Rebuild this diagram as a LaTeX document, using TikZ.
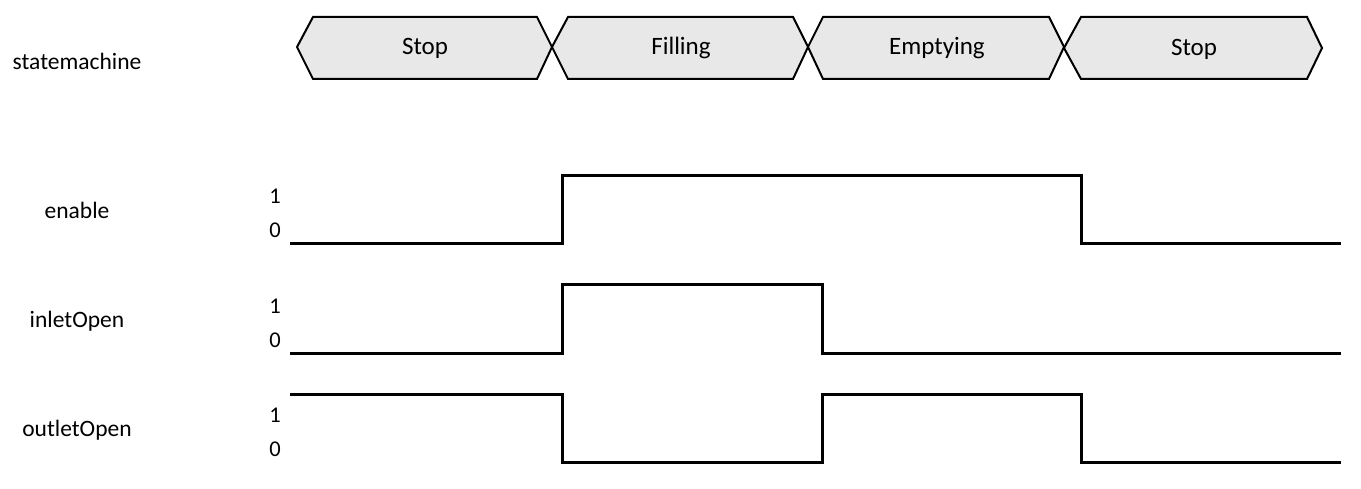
\documentclass[tikz,border=0pt]{standalone}
\usepackage{fontspec}
\setmainfont{Carlito}
\begin{document}
\begin{tikzpicture}[x=1pt,y=-1pt,
  statebox/.style={draw=black,line width=2pt,fill=statefill,line join=miter},
  wave/.style={draw=black,line width=3pt,line join=miter},
  statelabel/.style={font=\fontsize{25}{30}\selectfont,inner sep=0pt,anchor=base},
  siglabel/.style={font=\fontsize{23.5}{28}\selectfont,inner sep=0pt,anchor=base},
  lvl/.style={font=\fontsize{22.5}{27}\selectfont,inner sep=0pt,anchor=base}]
\definecolor{statefill}{HTML}{E8E8E8}
\useasboundingbox (0,0) rectangle (1361,489);
% state hexagons
\draw[statebox] (297,47) -- (313,17) -- (537,17) -- (552,47) -- (537,79) -- (313,79) -- cycle;
\draw[statebox] (552,47) -- (568,17) -- (793,17) -- (808,47) -- (793,79) -- (568,79) -- cycle;
\draw[statebox] (808,47) -- (823,17) -- (1049,17) -- (1064,47) -- (1049,79) -- (823,79) -- cycle;
\draw[statebox] (1064,48) -- (1081,17) -- (1307,17) -- (1322,48) -- (1307,79) -- (1081,79) -- cycle;
\node[statelabel] (s1) at (425,55) {Stop};
\node[statelabel] (s2) at (681,55) {Filling};
\node[statelabel] (s3) at (937,55) {Emptying};
\node[statelabel] (s4) at (1194,56) {Stop};
% signal names
\node[siglabel] (n0) at (77,69.5) {statemachine};
\node[siglabel] (n1) at (77,218.5) {enable};
\node[siglabel] (n2) at (77,327.5) {inletOpen};
\node[siglabel] (n3) at (77,436.5) {outletOpen};
% levels
\node[lvl] (e1) at (275,204) {1};
\node[lvl] (e0) at (275,238) {0};
\node[lvl] (i1) at (275,313) {1};
\node[lvl] (i0) at (275,347) {0};
\node[lvl] (o1) at (275,422) {1};
\node[lvl] (o0) at (275,456) {0};
% waveforms
\draw[wave] (290,244) -- (562,244) -- (562,176) -- (1081,176) -- (1081,244) -- (1341,244);
\draw[wave] (290,353) -- (562,353) -- (562,285) -- (822,285) -- (822,353) -- (1341,353);
\draw[wave] (290,394) -- (562,394) -- (562,462) -- (822,462) -- (822,394) -- (1081,394) -- (1081,462) -- (1341,462);
\end{tikzpicture}
\end{document}
